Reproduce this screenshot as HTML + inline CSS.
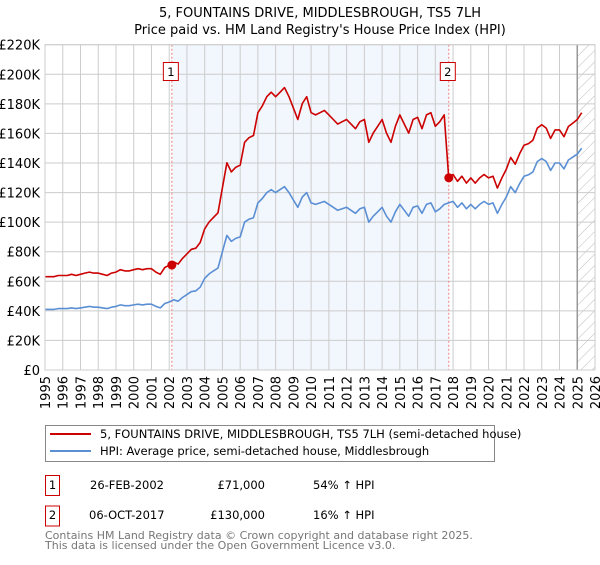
<!DOCTYPE html>
<html><head><meta charset="utf-8">
<style>
body{margin:0;background:#fff;font-family:"Liberation Sans","DejaVu Sans",sans-serif;}
svg text{font-family:"DejaVu Sans","Liberation Sans",sans-serif;}
</style></head>
<body>
<svg id="chart" width="600" height="560" xmlns="http://www.w3.org/2000/svg">
<defs>
<pattern id="hatch" patternUnits="userSpaceOnUse" width="8" height="8" patternTransform="rotate(45)">
<line x1="0" y1="0" x2="0" y2="8" stroke="#bbb" stroke-width="1"/>
</pattern>
</defs>
<text x="320" y="17" text-anchor="middle" font-size="13">5, FOUNTAINS DRIVE, MIDDLESBROUGH, TS5 7LH</text>
<text x="320" y="34" text-anchor="middle" font-size="13">Price paid vs. HM Land Registry's House Price Index (HPI)</text>
<g id="plot"></g>
<g>
<rect x="45.5" y="425.5" width="449" height="36" fill="#fff" stroke="#888"/>
<line x1="50" y1="434" x2="91" y2="434" stroke="#cc0000" stroke-width="2"/>
<text x="100" y="438" font-size="11.5">5, FOUNTAINS DRIVE, MIDDLESBROUGH, TS5 7LH (semi-detached house)</text>
<line x1="50" y1="451" x2="91" y2="451" stroke="#5b8fd4" stroke-width="2"/>
<text x="100" y="455" font-size="11.5">HPI: Average price, semi-detached house, Middlesbrough</text>
</g>
<g font-size="11.5">
<rect x="45.5" y="475.5" width="14" height="20" fill="#fff" stroke="#cc0000"/>
<text x="52.5" y="489" text-anchor="middle">1</text>
<text x="90" y="489">26-FEB-2002</text>
<text x="265" y="489" text-anchor="end">£71,000</text>
<text x="313" y="489">54% ↑ HPI</text>
<rect x="45.5" y="506" width="14" height="20" fill="#fff" stroke="#cc0000"/>
<text x="52.5" y="519" text-anchor="middle">2</text>
<text x="89" y="519">06-OCT-2017</text>
<text x="265" y="519" text-anchor="end">£130,000</text>
<text x="313" y="519">16% ↑ HPI</text>
</g>
<g font-size="11" fill="#777">
<text x="45" y="539">Contains HM Land Registry data © Crown copyright and database right 2025.</text>
<text x="45" y="549">This data is licensed under the Open Government Licence v3.0.</text>
</g>
</svg>
<script>
const hpiValues=[41,41,41,41.5,41.5,41.5,42,41.5,42,42.5,43,42.5,42.5,42,41.5,42.5,43,44,43.5,43.5,44,44.5,44,44.5,44.5,43,42,45,46,47.5,46.5,49,51,53,53.5,56,62,65,67,69,80,91,87,89,90,100,102,103,113,116,120,122,120,122,124,120,115,110,117,120,113,112,113,114,112,110,108,109,110,108,106,109,110,100,104,107,110,104,100,107,112,108,104,110,111,106,112,113,107,109,112,113,114,110,113,109,112,109,112,114,112,113,106,112,117,124,120,126,131,132,134,141,143,141,135,140,140,136,142,144,146,150];
const priceValues=[63.1,63.1,63.1,63.9,63.9,63.9,64.7,63.9,64.7,65.5,66.2,65.5,65.5,64.7,63.9,65.5,66.2,67.8,67,67,67.8,68.5,67.8,68.5,68.5,66.2,64.7,69.3,70.8,73.2,71.6,75.5,78.5,81.6,82.4,86.2,95.5,100.1,103.2,106.3,123.2,140.1,134,137.1,138.6,154,157.1,158.6,174,178.6,184.8,187.9,184.8,187.9,191,184.8,177.1,169.4,180.2,184.8,174,172.5,174,175.6,172.5,169.4,166.3,167.9,169.4,166.3,163.2,167.9,169.4,154,160.2,164.8,169.4,160.2,154,164.8,172.5,166.3,160.2,169.4,170.9,163.2,172.5,174,164.8,167.9,172.5,131.1,132.2,127.6,131.1,126.4,129.9,126.4,129.9,132.2,129.9,131.1,123,129.9,135.7,143.8,139.2,146.2,152,153.1,155.4,163.6,165.9,163.6,156.6,162.4,162.4,157.8,164.7,167,169.4,174];
const startYear=1995, stepYears=0.25;
const saleYears=[2002.15,2017.76];
const saleValues=[71,130];
const saleLabels=["1","2"];
const yTicks=[0,20,40,60,80,100,120,140,160,180,200,220];
const yTickLabels=["£0","£20K","£40K","£60K","£80K","£100K","£120K","£140K","£160K","£180K","£200K","£220K"];
const xTicks=[1995,1996,1997,1998,1999,2000,2001,2002,2003,2004,2005,2006,2007,2008,2009,2010,2011,2012,2013,2014,2015,2016,2017,2018,2019,2020,2021,2022,2023,2024,2025,2026];

const L=45,R=595,T=44.7,B=370;
const X=y=>L+(y-1995)*(R-L)/31;
const Y=v=>B-v*(B-T)/220;
const NS="http://www.w3.org/2000/svg";
const g=document.getElementById('plot');
function mk(tag,attrs,parent){const e=document.createElementNS(NS,tag);for(const k in attrs)e.setAttribute(k,attrs[k]);(parent||g).appendChild(e);return e;}

let e=mk('rect',{x:X(saleYears[0]),y:T,width:X(saleYears[1])-X(saleYears[0]),height:B-T,fill:'#f2f6fd'});


e=mk('rect',{x:X(2025),y:T,width:R-X(2025),height:B-T,fill:'url(#hatch)'});



yTicks.forEach((v,i)=>{
  let l=mk('line',{x1:L,x2:R,y1:Y(v),y2:Y(v),stroke:'#ccc','stroke-width':1});
  
  
  let t=mk('text',{x:L-5,y:Y(v)+5,'text-anchor':'end','font-size':13});
  t.textContent=yTickLabels[i];
  
  
});
xTicks.forEach(yr=>{
  let l=mk('line',{x1:X(yr),x2:X(yr),y1:T,y2:B,stroke:'#ccc','stroke-width':1});
  
  
  let t=mk('text',{x:0,y:0,'text-anchor':'end','font-size':13,transform:`translate(${X(yr)+5},${B+6}) rotate(-90)`});
  t.textContent=yr;
  
  
});
e=mk('line',{x1:X(2025),x2:X(2025),y1:T,y2:B,stroke:'#999','stroke-width':1.5});



saleYears.forEach((yr,i)=>{
  let l=mk('line',{x1:X(yr),x2:X(yr),y1:T,y2:B,stroke:'#f08080','stroke-width':1,'stroke-dasharray':'2,2'});
  
  
});

function path(vals,color,name){
  const d=vals.map((v,i)=>(i?'L':'M')+X(startYear+i*stepYears).toFixed(1)+','+Y(v).toFixed(1)).join('');
  const p=mk('path',{d:d,fill:'none',stroke:color,'stroke-width':1.6,'stroke-linejoin':'round'});
  
  
}
path(hpiValues,'#5b8fd4','hpi-line');
path(priceValues,'#cc0000','price-paid-line');

saleYears.forEach((yr,i)=>{
  let c=mk('circle',{cx:X(yr),cy:Y(saleValues[i]),r:4.5,fill:'#cc0000'});
  
  
  let r=mk('rect',{x:X(yr)-8.5,y:62.5,width:15,height:18,fill:'#fff',stroke:'#cc0000'});
  
  
  let t=mk('text',{x:X(yr)-1,y:76,'text-anchor':'middle','font-size':11.5});
  t.textContent=saleLabels[i];
  
  
});
let fr=mk('rect',{x:L,y:T,width:R-L,height:B-T,fill:'none',stroke:'#ccc'});


</script>
</body></html>
